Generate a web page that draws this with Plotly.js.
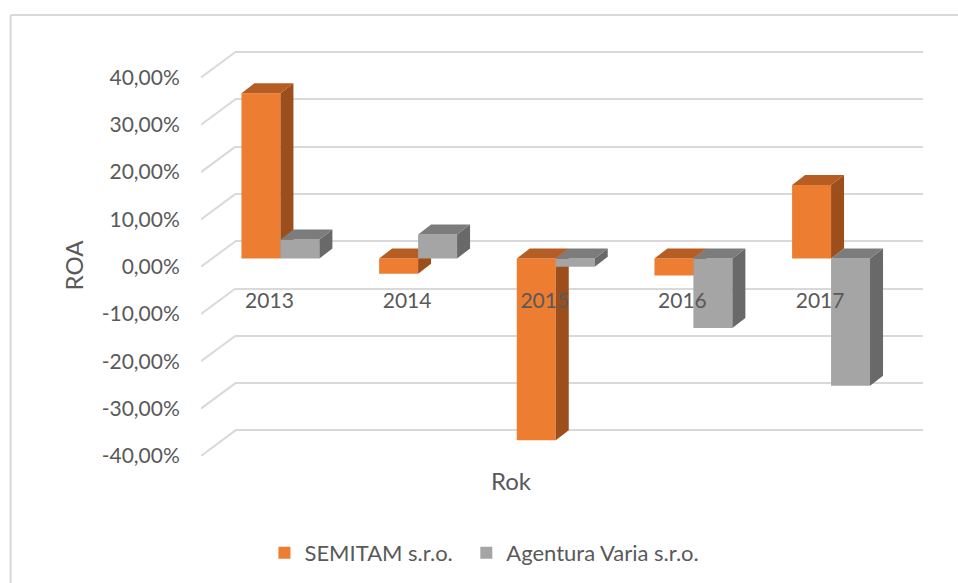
<!DOCTYPE html>
<html>
<head>
<meta charset="utf-8">
<script src="https://cdn.plot.ly/plotly-3.0.1.min.js"></script>
<style>html,body{margin:0;padding:0;background:#fff}#c{width:958px;height:583px}</style>
</head>
<body>
<div id="c"></div>
<script>
// Data
const years = [2013, 2014, 2015, 2016, 2017];
const semitam = [34.95, -3.2, -38.4, -3.6, 15.55];
const varia = [4.0, 5.1, -1.75, -14.7, -26.9];
const yTicks = [-40, -30, -20, -10, 0, 10, 20, 30, 40];
const yTickLabels = ['-40,00%', '-30,00%', '-20,00%', '-10,00%', '0,00%', '10,00%', '20,00%', '30,00%', '40,00%'];
const seriesNames = ['SEMITAM s.r.o.', 'Agentura Varia s.r.o.'];

// Geometry of the oblique projection (pixels of the 958x583 frame)
const W = 958, H = 583;
const L = 200.5, R = 923, T = 46, B = 456;
const pxPerPct = 4.73, pxPerYear = 137.75;
const wallDx = 34.5, wallDy = 25.5;      // floor depth front -> back wall
const barDx = 13, barDy = 10;            // bar depth
const zeroBar = 258.5, split2013 = 280;  // bar plane: y of 0 %, x of 2013 boundary
const barW = 39 / pxPerYear;
const dx = barDx / pxPerYear, dy = barDy / pxPerPct;

const font = 'Lato, sans-serif', txt = '#595959', grid = '#D9D9D9';
const tickFont = {family: font, size: 21, color: txt};
const titleFont = {family: font, size: 24, color: txt};
const legendFont = {family: font, size: 22, color: txt};

// y ranges for a plane whose 40 % line lies at pixel y40
const yRange = (y40, top, bottom) => [40 - (bottom - y40) / pxPerPct, 40 + (y40 - top) / pxPerPct];
const xRange = (x2013, left, right) => [2013 - (x2013 - left) / pxPerYear, 2013 + (right - x2013) / pxPerYear];
const dom = p => (p - L) / (R - L);
const domY = p => (B - p) / (B - T);

function faces(vals, off) {
  const side = {x: [], y: []}, top = {x: [], y: []};
  years.forEach((yr, i) => {
    const v = vals[i], xl = yr + off, xr = xl + barW, t = Math.max(v, 0);
    side.x.push(xr, xr, xr + dx, xr + dx, xr, null);
    side.y.push(0, v, v + dy, dy, 0, null);
    top.x.push(xl, xr, xr + dx, xl + dx, xl, null);
    top.y.push(t, t, t + dy, t + dy, t, null);
  });
  return {side, top};
}

function series(name, vals, off, front, sideCol, topCol, xa, ya, lg) {
  const f = faces(vals, off);
  const poly = (d, c) => ({type: 'scatter', mode: 'lines', x: d.x, y: d.y, fill: 'toself', fillcolor: c,
    line: {width: 0, color: c}, showlegend: false, hoverinfo: 'skip', xaxis: xa, yaxis: ya});
  return [
    {type: 'bar', name, x: years, y: vals, width: barW, offset: off, legend: lg,
     marker: {color: front, line: {width: 0}}, xaxis: xa, yaxis: ya},
    poly(f.side, sideCol), poly(f.top, topCol)
  ];
}

const xBars = xRange(split2013, L, R);
const xLabRange = xRange(split2013 - 11, L, 821);

// Left wall diagonals, one per y tick
const diagX = [], diagY = [];
yTicks.forEach(v => {
  diagX.push(xBars[0], xBars[0] + wallDx / pxPerYear, null);
  diagY.push(v, v + wallDy / pxPerPct, null);
});

const traces = [
  // keeps the back-wall subplot alive so its gridlines are drawn
  {type: 'scatter', mode: 'none', x: [0], y: [0], showlegend: false, hoverinfo: 'skip', xaxis: 'x', yaxis: 'y'},
  {type: 'scatter', mode: 'lines', x: diagX, y: diagY, line: {color: grid, width: 2},
   showlegend: false, hoverinfo: 'skip', xaxis: 'x5', yaxis: 'y5'},
  ...series(seriesNames[0], semitam, -barW, '#ED7D31', '#9C4F1B', '#B55D22', 'x2', 'y2', 'legend'),
  ...series(seriesNames[1], varia, 0, '#A5A5A5', '#696969', '#7C7C7C', 'x3', 'y3', 'legend2'),
  // keeps the label axes alive
  {type: 'scatter', mode: 'none', x: [years[0]], y: [0], showlegend: false, hoverinfo: 'skip', xaxis: 'x4', yaxis: 'y4'}
];

const yBars = yRange(zeroBar - 40 * pxPerPct, T, B);
const hiddenX = {range: xBars, domain: [0, 1], visible: false, fixedrange: true};
const hiddenY = {range: yBars, domain: [0, 1], visible: false, fixedrange: true};

const legendBase = {orientation: 'h', y: domY(553), xanchor: 'left', yanchor: 'middle',
                    font: legendFont, itemclick: false, itemdoubleclick: false};

const layout = {
  width: W, height: H, showlegend: true,
  margin: {l: L, r: W - R, t: T, b: H - B, pad: 0, autoexpand: false},
  paper_bgcolor: '#fff', plot_bgcolor: 'rgba(0,0,0,0)',
  barmode: 'overlay',
  // back wall: gridlines
  xaxis: {domain: [dom(235), 1], range: [0, 1], visible: false, fixedrange: true},
  yaxis: {domain: [0, 1], range: yRange(52, T, B), tickmode: 'array', tickvals: yTicks, ticktext: yTicks.map(() => ''),
          showgrid: true, gridcolor: grid, gridwidth: 2.4, zeroline: false, showline: false, ticks: '', fixedrange: true},
  xaxis2: Object.assign({anchor: 'y2'}, hiddenX),
  yaxis2: Object.assign({anchor: 'x2'}, hiddenY),
  xaxis3: Object.assign({anchor: 'y3'}, hiddenX),
  yaxis3: Object.assign({anchor: 'x3'}, hiddenY),
  xaxis5: Object.assign({anchor: 'y5'}, hiddenX),
  yaxis5: Object.assign({anchor: 'x5'}, hiddenY, {range: yRange(77.5, T, B)}),
  // front plane: tick labels and titles
  xaxis4: {domain: [0, dom(821)], range: xLabRange, anchor: 'free', position: domY(286),
           tickmode: 'array', tickvals: years, ticktext: years.map(String), tickfont: tickFont,
           showgrid: false, zeroline: false, showline: false, ticks: '', fixedrange: true,
           title: {text: 'Rok', font: titleFont, standoff: 162}},
  yaxis4: {domain: [0, domY(75)], range: yRange(77.5, 75, B), anchor: 'x4',
           tickmode: 'array', tickvals: yTicks, ticktext: yTickLabels, tickfont: tickFont,
           showgrid: false, zeroline: false, showline: false, ticks: 'outside', ticklen: 16, tickcolor: 'rgba(0,0,0,0)', fixedrange: true,
           title: {text: 'ROA', font: titleFont, standoff: 11}},
  legend: Object.assign({x: dom(264)}, legendBase),
  legend2: Object.assign({x: dom(466)}, legendBase),
  shapes: [
    {type: 'line', xref: 'paper', yref: 'paper', x0: dom(10), x1: dom(10), y0: domY(15), y1: domY(H), line: {color: grid, width: 2}, layer: 'below'},
    {type: 'line', xref: 'paper', yref: 'paper', x0: dom(10), x1: dom(W), y0: domY(15), y1: domY(15), line: {color: grid, width: 2}, layer: 'below'}
  ]
};

Plotly.newPlot('c', traces, layout, {displayModeBar: false});
</script>
</body>
</html>
